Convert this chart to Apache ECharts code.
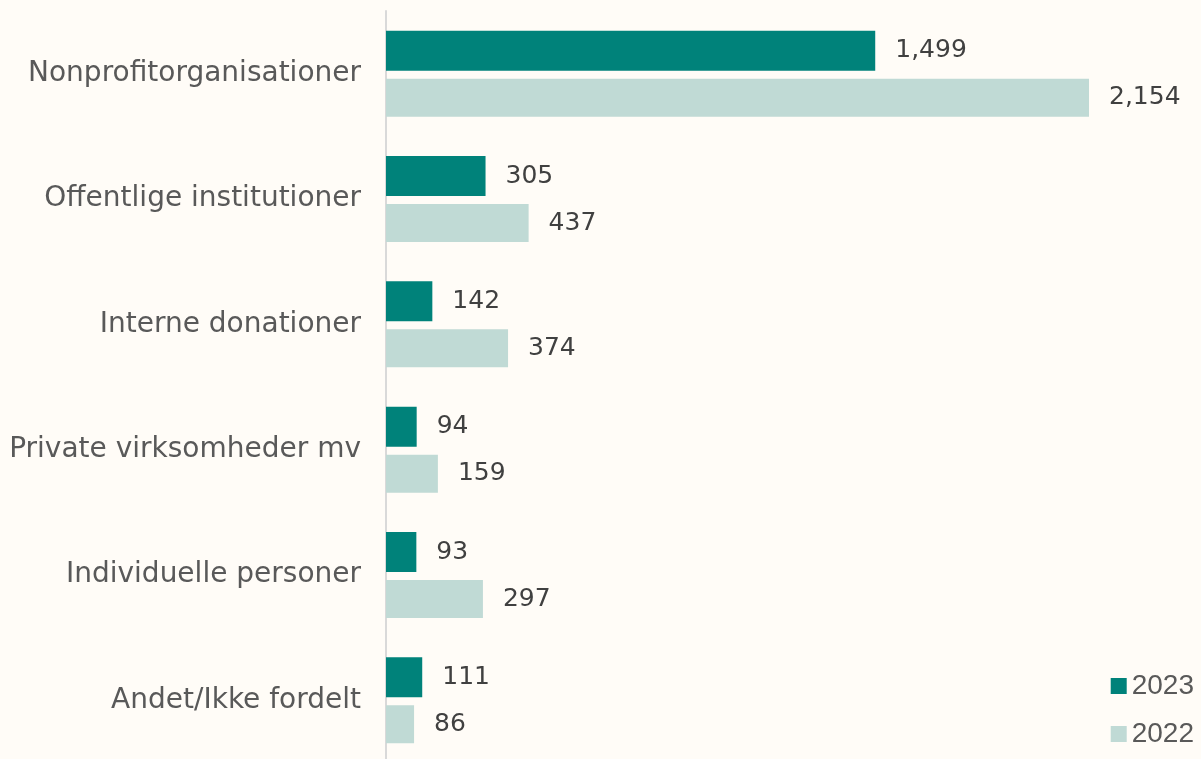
<!DOCTYPE html>
<html lang="da">
<head>
<meta charset="UTF-8">
<title>Donationer</title>
<script src="https://cdn.jsdelivr.net/npm/echarts@6/dist/echarts.min.js"></script>
<style>
  html, body { margin: 0; padding: 0; background: #fffcf7; }
  #chart { width: 1201px; height: 759px; }
</style>
</head>
<body>
<div id="chart"></div>
<script>
  // kategorier, øverst først
  const categories = [
    'Nonprofitorganisationer',
    'Offentlige institutioner',
    'Interne donationer',
    'Private virksomheder mv',
    'Individuelle personer',
    'Andet/Ikke fordelt'
  ];
  const values2023 = [1499, 305, 142, 94, 93, 111];
  const values2022 = [2154, 437, 374, 159, 297, 86];

  const chart = echarts.init(document.getElementById('chart'));
  const font = '"DejaVu Sans", sans-serif';

  const labelStyle = {
    show: true,
    position: 'right',
    distance: 20,
    color: '#404040',
    fontSize: 25,
    fontFamily: font,
    formatter: p => p.value.toLocaleString('en-US')
  };

  chart.setOption({
    backgroundColor: '#fffcf7',
    animation: false,
    grid: {
      left: 386, top: 11, width: 703, height: 752,
      containLabel: false, outerBoundsMode: 'none'
    },
    legend: {
      orient: 'vertical',
      right: 2,
      bottom: 6,
      itemWidth: 16,
      itemHeight: 16,
      itemGap: 20,
      icon: 'rect',
      textStyle: { color: '#595959', fontSize: 28, fontFamily: 'Arial, "Liberation Sans", sans-serif' },
      data: ['2023', '2022']
    },
    xAxis: {
      type: 'value',
      min: 0,
      max: 2154,
      show: false
    },
    yAxis: {
      type: 'category',
      inverse: true,
      data: categories,
      axisLine: { show: true, lineStyle: { color: '#d9d9d9', width: 2 } },
      axisTick: { show: false },
      axisLabel: { color: '#595959', fontSize: 28, fontFamily: font, margin: 25 }
    },
    series: [
      {
        name: '2023',
        type: 'bar',
        data: values2023,
        barWidth: 40,
        barGap: '20%',
        itemStyle: { color: '#00827a' },
        label: labelStyle
      },
      {
        name: '2022',
        type: 'bar',
        data: values2022,
        barWidth: 38,
        itemStyle: { color: '#c0dad5' },
        label: labelStyle
      }
    ]
  });
</script>
</body>
</html>
